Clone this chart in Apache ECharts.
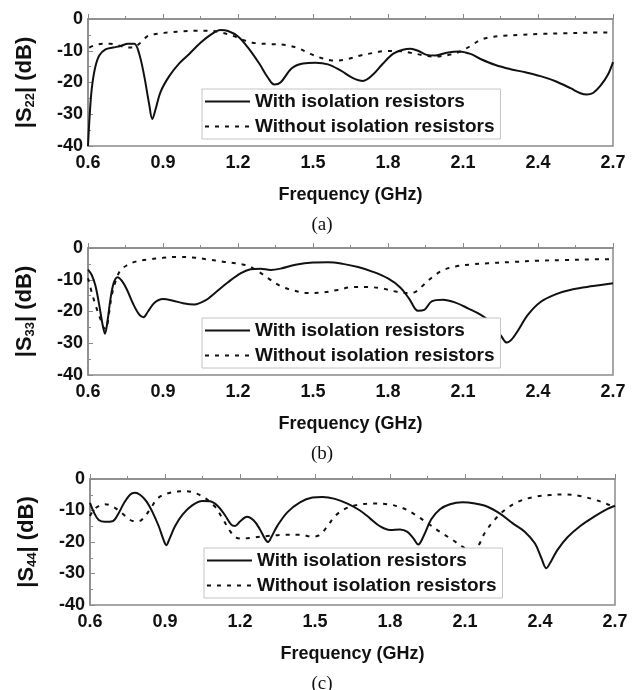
<!DOCTYPE html>
<html>
<head>
<meta charset="utf-8">
<script src="https://cdn.jsdelivr.net/npm/echarts@6/dist/echarts.min.js"></script>
<style>
  html, body { margin: 0; padding: 0; background: #fff; }
  #chart { width: 635px; height: 690px; }
</style>
</head>
<body>
<div id="chart"></div>
<script>
// values (frequency in GHz, level in dB)
var freqTicks = [0.6, 0.9, 1.2, 1.5, 1.8, 2.1, 2.4, 2.7];
var seriesNames = ['With isolation resistors', 'Without isolation resistors'];

// (a) |S22|
var fA1 = [0.600, 0.607, 0.615, 0.628, 0.645, 0.670, 0.700, 0.730, 0.760, 0.785, 0.805, 0.825, 0.845, 0.857, 0.870, 0.890, 0.925, 0.965, 1.005, 1.050, 1.090, 1.130, 1.160, 1.200, 1.240, 1.285, 1.320, 1.345, 1.370, 1.415, 1.460, 1.510, 1.560, 1.610, 1.660, 1.700, 1.740, 1.780, 1.820, 1.860, 1.890, 1.920, 1.955, 1.990, 2.035, 2.085, 2.130, 2.170, 2.230, 2.290, 2.350, 2.410, 2.470, 2.530, 2.570, 2.595, 2.620, 2.650, 2.680, 2.700];
var vA1 = [-40, -30, -22, -15.5, -11.5, -9.6, -9.0, -8.5, -7.8, -7.8, -11, -18, -27, -31.5, -28.5, -23, -18, -14, -11, -7.5, -5, -3.5, -3.8, -5.5, -9, -14, -18.5, -20.6, -20, -15.5, -14, -13.8, -14.3, -16.2, -18.6, -19.5, -17.5, -14, -11, -9.7, -9.4, -10, -11.3, -11.5, -10.6, -10.2, -11, -12.6, -14.5, -15.8, -16.8, -18, -19.6, -21.8, -23.4, -23.8, -23.3, -21, -17.5, -13.6];
var fA2 = [0.605, 0.630, 0.660, 0.690, 0.720, 0.750, 0.780, 0.810, 0.840, 0.880, 0.930, 0.980, 1.030, 1.080, 1.130, 1.180, 1.220, 1.270, 1.330, 1.390, 1.440, 1.490, 1.530, 1.570, 1.600, 1.640, 1.690, 1.740, 1.790, 1.840, 1.890, 1.940, 1.980, 2.010, 2.050, 2.090, 2.130, 2.170, 2.210, 2.260, 2.330, 2.410, 2.500, 2.600, 2.700];
var vA2 = [-9, -8.2, -7.8, -7.8, -8.3, -8.9, -9.0, -7.5, -5.3, -4.6, -4.2, -3.9, -3.7, -3.7, -4.2, -5.3, -6.6, -7.6, -7.9, -8.2, -9.2, -11, -12.2, -13, -13.1, -12.6, -11.5, -10.7, -10.1, -10.1, -10.6, -11.4, -11.8, -11.7, -11.2, -10.2, -8.5, -6.6, -5.7, -5.3, -5.0, -4.7, -4.5, -4.3, -4.2];

// (b) |S33|
var fB1 = [0.600, 0.615, 0.630, 0.645, 0.658, 0.668, 0.678, 0.690, 0.703, 0.718, 0.735, 0.755, 0.780, 0.805, 0.822, 0.840, 0.865, 0.900, 0.940, 0.980, 1.025, 1.070, 1.110, 1.160, 1.210, 1.250, 1.290, 1.330, 1.370, 1.430, 1.500, 1.560, 1.620, 1.680, 1.740, 1.800, 1.850, 1.885, 1.920, 1.945, 1.975, 2.020, 2.070, 2.120, 2.170, 2.220, 2.255, 2.275, 2.295, 2.320, 2.360, 2.410, 2.470, 2.540, 2.620, 2.700];
var vB1 = [-6.8, -8.5, -12, -18, -24, -27, -23, -16, -11, -9.2, -10.3, -13, -17.5, -21, -21.8, -20, -17.3, -16.1, -16.6, -17.4, -17.8, -16.5, -14, -10.8, -8, -6.7, -6.5, -6.9, -6.5, -5.3, -4.6, -4.5, -5, -6, -7.5, -9.6, -12.5, -16, -19.8, -19.5, -16.8, -16.3, -17.2, -19, -21, -24, -28, -29.8, -28.8, -26, -21, -17, -14.6, -13, -12, -11.1];
var fB2 = [0.600, 0.615, 0.630, 0.648, 0.662, 0.672, 0.683, 0.695, 0.710, 0.730, 0.755, 0.790, 0.840, 0.900, 0.960, 1.020, 1.080, 1.140, 1.190, 1.240, 1.280, 1.320, 1.370, 1.420, 1.480, 1.540, 1.600, 1.660, 1.720, 1.780, 1.830, 1.880, 1.910, 1.940, 1.980, 2.020, 2.070, 2.130, 2.200, 2.300, 2.400, 2.500, 2.600, 2.700];
var vB2 = [-9.5, -14, -18, -22, -25, -25.5, -21, -15, -10.5, -7, -5.5, -4.3, -3.6, -3.1, -2.8, -3.0, -3.6, -4.3, -4.8, -5.6, -7.3, -9.5, -12, -13.3, -14.2, -14, -13.2, -12.3, -12.3, -12.8, -13.7, -14.2, -13.8, -11.8, -9, -7, -5.8, -5.2, -4.8, -4.4, -4.0, -3.8, -3.6, -3.5];

// (c) |S44|
var fC1 = [0.600, 0.615, 0.635, 0.660, 0.690, 0.710, 0.735, 0.760, 0.780, 0.800, 0.825, 0.850, 0.875, 0.895, 0.905, 0.918, 0.940, 0.970, 1.010, 1.050, 1.080, 1.110, 1.140, 1.165, 1.180, 1.200, 1.228, 1.255, 1.280, 1.300, 1.312, 1.325, 1.350, 1.390, 1.440, 1.490, 1.530, 1.580, 1.630, 1.680, 1.720, 1.760, 1.800, 1.840, 1.870, 1.895, 1.913, 1.935, 1.965, 2.000, 2.040, 2.090, 2.140, 2.190, 2.240, 2.290, 2.340, 2.380, 2.405, 2.425, 2.445, 2.470, 2.510, 2.560, 2.620, 2.670, 2.700];
var vC1 = [-7.6, -10.5, -13, -13.6, -13.4, -11.5, -7.8, -5.0, -4.4, -5.0, -7, -10.5, -15, -19.5, -21, -19, -15, -11.3, -8.3, -7.0, -7.1, -8.5, -11.5, -14.5, -14.9, -13.5, -12.0, -13.2, -16, -19, -20, -18.5, -14.8, -10.5, -7.4, -5.9, -5.7, -6.3, -7.8, -10, -12.5, -15, -16.2, -16.0, -16.8, -19, -20.8, -18, -12.8, -9.6, -8, -7.4, -7.8, -8.8, -11, -14, -16.8, -20.5, -25, -28.3, -26, -22.5, -18.5, -15, -11.8, -9.5, -8.5];
var fC2 = [0.600, 0.615, 0.635, 0.660, 0.685, 0.715, 0.745, 0.770, 0.795, 0.820, 0.845, 0.870, 0.905, 0.950, 0.985, 1.025, 1.065, 1.100, 1.130, 1.160, 1.185, 1.210, 1.250, 1.310, 1.375, 1.440, 1.490, 1.515, 1.545, 1.580, 1.620, 1.670, 1.730, 1.790, 1.850, 1.900, 1.950, 2.000, 2.050, 2.090, 2.120, 2.150, 2.180, 2.220, 2.260, 2.310, 2.370, 2.440, 2.500, 2.560, 2.620, 2.670, 2.700];
var vC2 = [-11.8, -9.8, -8.6, -8.0, -8.5, -10, -12, -13.3, -13.4, -11.8, -9, -6.2, -4.7, -4.0, -3.9, -4.6, -6.3, -8.8, -12.5, -16.5, -18.6, -18.9, -18.6, -18.1, -17.7, -17.7, -18.3, -17.9, -15.5, -11.8, -9.5, -8.2, -7.8, -8.0, -9.2, -11.3, -14, -16.8, -19.3, -21.5, -22.5, -21.5, -17, -12.8, -9.8, -7.3, -5.8, -5.1, -4.9, -5.4, -6.6, -8.0, -9.0];

var panels = [
  { top: 19, left: 88, height: 127, sub: '22', tag: '(a)', with: [fA1, vA1], without: [fA2, vA2] },
  { top: 248, left: 88, height: 127, sub: '33', tag: '(b)', with: [fB1, vB1], without: [fB2, vB2] },
  { top: 479, left: 90, height: 126, sub: '44', tag: '(c)', with: [fC1, vC1], without: [fC2, vC2] }
];

function zip(f, v) {
  return f.map(function (x, i) { return [x, v[i]]; });
}

var FONT = 'Liberation Sans, Arial, sans-serif';
var INK = '#111';
var FRAME = '#8a8a8a';

var chart = echarts.init(document.getElementById('chart'), null, { renderer: 'canvas' });

var grids = [], xAxes = [], yAxes = [], series = [], legends = [], titles = [];

panels.forEach(function (p, i) {
  grids.push({
    left: p.left, top: p.top, width: 525, height: p.height,
    show: true, borderColor: FRAME, borderWidth: 1.5, backgroundColor: 'transparent'
  });
  xAxes.push({
    type: 'value', gridIndex: i, min: 0.6, max: 2.7, interval: 0.3,
    name: 'Frequency (GHz)', nameLocation: 'middle', nameGap: 40,
    nameTextStyle: { fontFamily: FONT, fontWeight: 'bold', fontSize: 18, color: INK },
    axisLine: { lineStyle: { color: FRAME, width: 1.5 } },
    axisTick: { inside: true, length: 5, lineStyle: { color: FRAME } },
    minorTick: { show: true, splitNumber: 2, length: 3, lineStyle: { color: FRAME } },
    splitLine: { show: false },
    axisLabel: {
      margin: 8, fontFamily: FONT, fontWeight: 'bold', fontSize: 18, color: INK,
      showMinLabel: true, showMaxLabel: true,
      formatter: function (v) { return v.toFixed(1); }
    }
  });
  yAxes.push({
    type: 'value', gridIndex: i, min: -40, max: 0, interval: 10,
    name: '|S{sub|' + p.sub + '}| (dB)', nameLocation: 'middle', nameRotate: 90, nameGap: 51,
    nameTextStyle: {
      fontFamily: FONT, fontWeight: 'bold', fontSize: 22, color: INK,
      rich: { sub: { fontFamily: FONT, fontWeight: 'bold', fontSize: 13, color: INK, padding: [11, 0, 0, 0] } }
    },
    axisLine: { lineStyle: { color: FRAME, width: 1.5 } },
    axisTick: { inside: true, length: 5, lineStyle: { color: FRAME } },
    minorTick: { show: true, splitNumber: 2, length: 3, lineStyle: { color: FRAME } },
    splitLine: { show: false },
    axisLabel: { margin: 5, fontFamily: FONT, fontWeight: 'bold', fontSize: 18, color: INK }
  });
  series.push({
    name: seriesNames[0], type: 'line', xAxisIndex: i, yAxisIndex: i,
    data: zip(p.with[0], p.with[1]), smooth: 0.35, symbol: 'none',
    lineStyle: { color: INK, width: 2 }, itemStyle: { color: INK }, z: 2
  });
  series.push({
    name: seriesNames[1], type: 'line', xAxisIndex: i, yAxisIndex: i,
    data: zip(p.without[0], p.without[1]), smooth: 0.35, symbol: 'none',
    lineStyle: { color: INK, width: 2, type: [4, 6] }, itemStyle: { color: INK }, z: 2
  });
  legends.push({
    data: seriesNames, orient: 'vertical', left: p.left + 114, top: p.top + p.height - 57,
    itemWidth: 45, itemHeight: 12, itemGap: 6, padding: [3, 6, 3, 2],
    backgroundColor: '#fff', borderColor: '#c4c4c4', borderWidth: 1,
    selectedMode: false, z: 10,
    itemStyle: { opacity: 0 },
    textStyle: { fontFamily: FONT, fontWeight: 'bold', fontSize: 19, color: INK }
  });
  titles.push({
    text: p.tag, left: 317, textAlign: 'center', top: p.top + p.height + 65,
    textStyle: { fontFamily: 'Liberation Serif, Times New Roman, serif', fontWeight: 'normal', fontSize: 19, color: INK }
  });
});

chart.setOption({
  animation: false,
  backgroundColor: '#fff',
  title: titles,
  grid: grids,
  xAxis: xAxes,
  yAxis: yAxes,
  legend: legends,
  series: series
});
</script>
</body>
</html>
